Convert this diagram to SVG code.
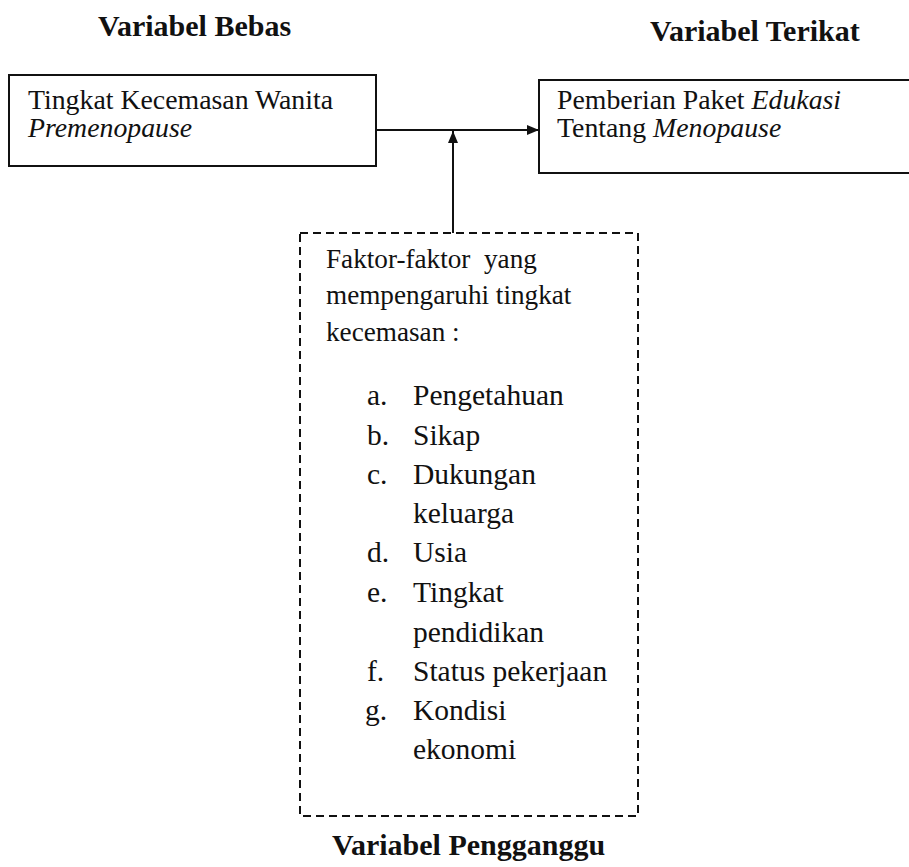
<svg xmlns="http://www.w3.org/2000/svg" width="909" height="867" viewBox="0 0 909 867">
<defs>
<style>
.title{font-size:30px;font-weight:bold}
.box{font-size:27.8px}
.hd{font-size:27.2px}
.li{font-size:29.5px}
.solid{fill:none;stroke:#111;stroke-width:2}
.dash{fill:none;stroke:#111;stroke-width:2;stroke-dasharray:8 5}
.line{stroke:#111;stroke-width:2;fill:none}
</style>
<marker id="arr" viewBox="0 0 12 10" refX="12" refY="5" markerWidth="12" markerHeight="10" markerUnits="userSpaceOnUse" orient="auto">
<path d="M0,0 L12,5 L0,10 Z" fill="#111"/>
</marker>
</defs>
<rect width="909" height="867" fill="#fff"/>
<g font-family="Liberation Serif, Times New Roman, serif" fill="#111">
<g id="title-bebas"><text class="title" x="98" y="36">Variabel Bebas</text></g>
<g id="title-terikat"><text class="title" x="650" y="41">Variabel Terikat</text></g>
<g id="node-bebas">
<rect class="solid" x="9" y="75" width="367" height="91"/>
<text class="box" x="28" y="109">Tingkat Kecemasan Wanita</text>
<text class="box" x="28" y="137" font-style="italic">Premenopause</text>
</g>
<g id="node-terikat">
<rect class="solid" x="539" y="80" width="380" height="93"/>
<text class="box" x="557" y="109">Pemberian Paket <tspan font-style="italic">Edukasi</tspan></text>
<text class="box" x="557" y="137">Tentang <tspan font-style="italic">Menopause</tspan></text>
</g>
<g id="node-pengganggu">
<rect class="dash" x="300" y="233" width="338" height="583"/>
<text class="hd" x="326" y="268" xml:space="preserve">Faktor-faktor  yang</text>
<text class="hd" x="326" y="304">mempengaruhi tingkat</text>
<text class="hd" x="326" y="341">kecemasan :</text>
<text class="li" x="367" y="405">a.</text><text class="li" x="413" y="405">Pengetahuan</text>
<text class="li" x="367" y="445">b.</text><text class="li" x="413" y="445">Sikap</text>
<text class="li" x="367" y="484">c.</text><text class="li" x="413" y="484">Dukungan</text>
<text class="li" x="413" y="523">keluarga</text>
<text class="li" x="367" y="562">d.</text><text class="li" x="413" y="562">Usia</text>
<text class="li" x="367" y="602">e.</text><text class="li" x="413" y="602">Tingkat</text>
<text class="li" x="413" y="642">pendidikan</text>
<text class="li" x="367" y="681">f.</text><text class="li" x="413" y="681">Status pekerjaan</text>
<text class="li" x="365" y="720">g.</text><text class="li" x="413" y="720">Kondisi</text>
<text class="li" x="413" y="759">ekonomi</text>
</g>
<g id="title-pengganggu"><text class="title" x="332" y="855">Variabel Pengganggu</text></g>
</g>
<g id="connectors">
<line class="line" x1="376" y1="130" x2="539" y2="130" marker-end="url(#arr)"/>
<line class="line" x1="453" y1="233" x2="453" y2="131" marker-end="url(#arr)"/>
</g>
</svg>
